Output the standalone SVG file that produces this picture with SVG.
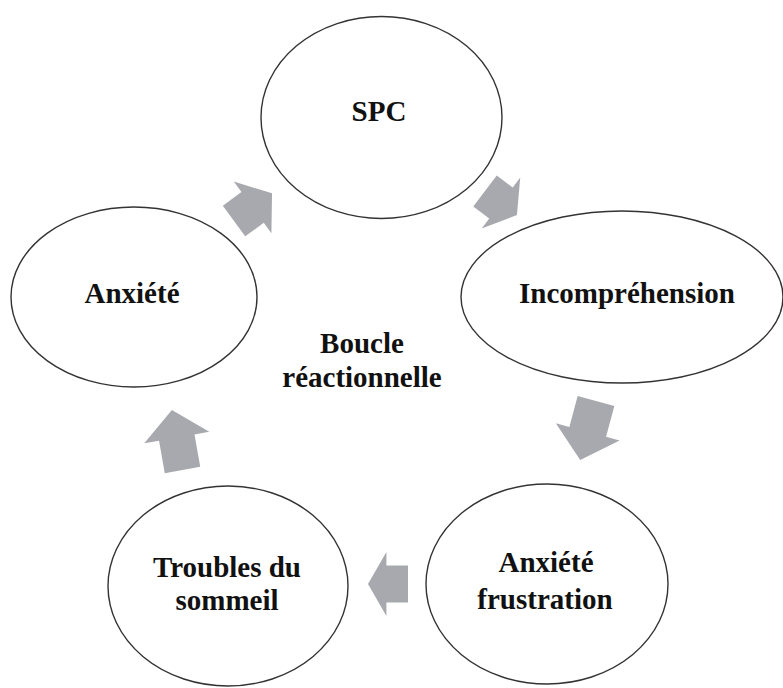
<svg xmlns="http://www.w3.org/2000/svg" width="783" height="688" viewBox="0 0 783 688">
  <style>
    .node { fill: #ffffff; stroke: #333333; stroke-width: 1.4; }
    .lbl { font-family: "Liberation Serif", "Times New Roman", serif; font-weight: bold; font-size: 29px; fill: #111111; text-anchor: middle; }
    .arr { fill: #a7a9ae; stroke: none; }
  </style>
  <rect x="0" y="0" width="783" height="688" fill="#ffffff"/>
  <g id="connectors">
    <path class="arr" transform="translate(234,221) rotate(-36)" d="M0,-19 L23,-19 L23,-32 L47,0 L23,32 L23,19 L0,19 Z"/>
    <path class="arr" transform="translate(485,191) rotate(37)" d="M0,-19.5 L20,-19.5 L20,-32 L40,0 L20,32 L20,19.5 L0,19.5 Z"/>
    <path class="arr" transform="translate(596,401) rotate(105)" d="M0,-19 L32,-19 L32,-33 L61,0 L32,33 L32,19 L0,19 Z"/>
    <path class="arr" transform="translate(408,584) rotate(180)" d="M0,-18.5 L21.6,-18.5 L21.6,-32 L40,0 L21.6,32 L21.6,18.5 L0,18.5 Z"/>
    <path class="arr" transform="translate(182.5,470) rotate(-100)" d="M0,-18 L33,-18 L33,-33 L61,0 L33,33 L33,18 L0,18 Z"/>
  </g>
  <g id="node-spc">
    <ellipse class="node" cx="381.5" cy="117.5" rx="120.5" ry="101"/>
    <text class="lbl" x="379" y="121">SPC</text>
  </g>
  <g id="node-incomprehension">
    <ellipse class="node" cx="622" cy="297" rx="161" ry="86"/>
    <text class="lbl" x="627" y="303">Incompréhension</text>
  </g>
  <g id="node-anxiete-frustration">
    <ellipse class="node" cx="547" cy="584" rx="121" ry="100"/>
    <text class="lbl" x="546" y="572">Anxiété</text>
    <text class="lbl" x="545" y="609">frustration</text>
  </g>
  <g id="node-troubles">
    <ellipse class="node" cx="228" cy="586" rx="120" ry="100"/>
    <text class="lbl" x="227" y="577">Troubles du</text>
    <text class="lbl" x="227" y="610">sommeil</text>
  </g>
  <g id="node-anxiete">
    <ellipse class="node" cx="134" cy="297" rx="123" ry="90"/>
    <text class="lbl" x="132" y="303">Anxiété</text>
  </g>
  <g id="center-label">
    <text class="lbl" x="362" y="353">Boucle</text>
    <text class="lbl" x="362" y="387">réactionnelle</text>
  </g>
</svg>
